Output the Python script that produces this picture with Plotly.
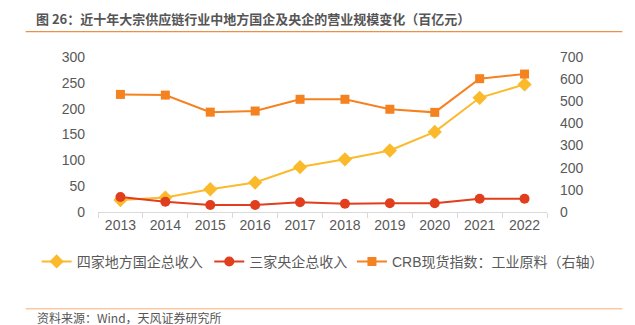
import plotly.graph_objects as go

years = ["2013", "2014", "2015", "2016", "2017", "2018", "2019", "2020", "2021", "2022"]
local_soe = [23, 28, 44, 57, 87, 102, 119, 155, 221, 247]
central_soe = [29, 20, 13.5, 13.5, 19, 16, 17, 17, 25.7, 25.7]
crb_index = [531, 528, 451, 456, 509, 509, 464, 450, 602, 623]

W, H = 635, 325
L, R, T, B = 97.5, 87.5, 56.5, 113
pw, ph = W - L - R, H - T - B

def px(x):
    return (x - L) / pw

def py(y):
    return (H - B - y) / ph

FONT = "Liberation Sans, Arial, Noto Sans CJK SC, sans-serif"
GRAY = "#595959"

fig = go.Figure()
fig.add_trace(go.Scatter(
    x=years, y=local_soe, name="四家地方国企总收入", mode="lines+markers",
    line=dict(color="#FBBA2C", width=2),
    marker=dict(symbol="diamond", size=11, color="#FBBA2C"),
    legend="legend",
))
fig.add_trace(go.Scatter(
    x=years, y=central_soe, name="三家央企总收入", mode="lines+markers",
    line=dict(color="#E03E1C", width=2),
    marker=dict(symbol="circle", size=10, color="#E03E1C"),
    legend="legend2",
))
fig.add_trace(go.Scatter(
    x=years, y=crb_index, name="CRB现货指数：工业原料（右轴）", mode="lines+markers",
    yaxis="y2",
    line=dict(color="#F58220", width=2),
    marker=dict(symbol="square", size=9, color="#F58220"),
    legend="legend3",
))

def leg(xpix):
    return dict(orientation="h", x=px(xpix), xanchor="left", y=py(262), yanchor="middle",
                font=dict(size=14, color=GRAY), itemwidth=30,
                bgcolor="rgba(0,0,0,0)", borderwidth=0)

fig.update_layout(
    width=W, height=H,
    margin=dict(l=L, r=R, t=T, b=B, pad=0, autoexpand=False),
    paper_bgcolor="white", plot_bgcolor="white",
    font=dict(family=FONT, size=14, color=GRAY),
    showlegend=True,
    legend=leg(36),
    legend2=leg(209),
    legend3=leg(352),
    xaxis=dict(type="category", showgrid=False, showline=True, linecolor="#D9D9D9",
               linewidth=1, ticks="outside", tickson="boundaries", ticklen=5,
               tickcolor="#D9D9D9", tickfont=dict(size=14, color=GRAY),
               range=[-0.5, 9.5], zeroline=False, fixedrange=True),
    yaxis=dict(range=[0, 300], dtick=50, showgrid=False, zeroline=False,
               showline=False, ticks="", tickfont=dict(size=14, color=GRAY),
               ticklabelstandoff=12),
    yaxis2=dict(range=[0, 700], dtick=100, overlaying="y", side="right",
                showgrid=False, zeroline=False, showline=False, ticks="",
                tickfont=dict(size=14, color=GRAY), ticklabelstandoff=12),
    annotations=[
        dict(text="<b>图 26：近十年大宗供应链行业中地方国企及央企的营业规模变化（百亿元）</b>",
             xref="paper", yref="paper", x=px(33), y=py(18), xanchor="left",
             yanchor="middle", showarrow=False,
             font=dict(family="Noto Sans CJK SC, sans-serif", size=13, color="#555555")),
        dict(text="资料来源：Wind，天风证券研究所",
             xref="paper", yref="paper", x=px(34), y=py(318), xanchor="left",
             yanchor="middle", showarrow=False,
             font=dict(family="Noto Sans CJK SC, sans-serif", size=12, color="#555555")),
    ],
    shapes=[
        dict(type="line", xref="paper", yref="paper", x0=px(25), x1=px(623),
             y0=py(31), y1=py(31), line=dict(color="#E8914A", width=1.2)),
        dict(type="line", xref="paper", yref="paper", x0=px(25), x1=px(623),
             y0=py(309), y1=py(309), line=dict(color="#F8C9A2", width=1.5)),
    ],
)

fig.write_html("out.html")
